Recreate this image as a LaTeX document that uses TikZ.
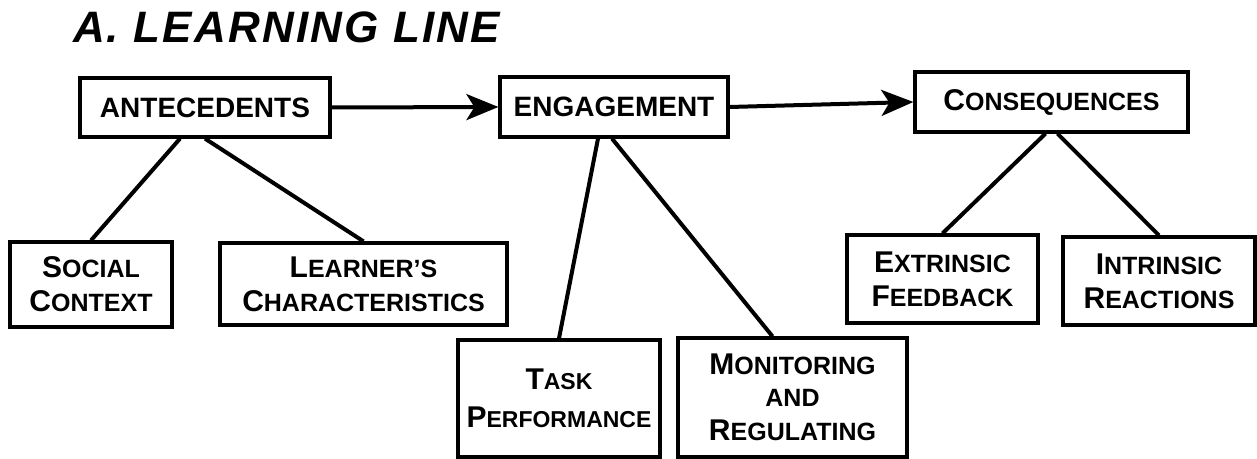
\documentclass[tikz,border=0pt]{standalone}
\usepackage{fontspec}
\setmainfont{Liberation Sans}
\usetikzlibrary{arrows.meta}
\newcommand{\Capword}[3][12.5]{{\fontsize{15}{17}\selectfont #2}{\fontsize{#1}{17}\selectfont #3}}

\tikzset{
    box/.style={draw, black, line width=1.6pt, rectangle, inner sep=0pt, align=center,
        font=\bfseries\fontsize{14}{17}\selectfont},
    link/.style={black, line width=2pt},
    flow/.style={black, line width=2pt, -{Stealth[length=16pt, width=13pt, inset=4pt]}}
}

\begin{document}
\begin{tikzpicture}[x=0.5pt, y=-0.5pt]
    \useasboundingbox (0,0) rectangle (1257,459);
    \node[anchor=base west, font=\bfseries\itshape\fontsize{22}{24}\selectfont\addfontfeature{LetterSpace=5}] (title) at (66,43) {A. LEARNING LINE};

    % top row
    \node[box, minimum width=125pt, minimum height=29.5pt] (ante) at (205,107.5) {ANTECEDENTS};
    \node[box, minimum width=114pt, minimum height=30pt] (engage) at (614,107) {ENGAGEMENT};
    \node[box, minimum width=136.5pt, minimum height=30pt] (conseq) at (1051.5,102) {\Capword{C}{ONSEQUENCES}};

    % second row
    \node[box, minimum width=81pt, minimum height=42.5pt] (social) at (91,284.5) {\Capword{S}{OCIAL}\\\Capword{C}{ONTEXT}};
    \node[box, minimum width=143.5pt, minimum height=41pt] (learner) at (363.5,284) {\Capword{L}{EARNER'S}\\\Capword{C}{HARACTERISTICS}};
    \node[box, minimum width=95.5pt, minimum height=44pt] (extr) at (942.5,279) {\Capword{E}{XTRINSIC}\\\Capword{F}{EEDBACK}};
    \node[box, minimum width=96pt, minimum height=44pt] (intr) at (1159,281) {\Capword{I}{NTRINSIC}\\\Capword{R}{EACTIONS}};

    % third row
    \node[box, minimum width=101pt, minimum height=58.5pt] (task) at (559,398.5) {\Capword[11.5]{T}{ASK}\\[2pt]\Capword[11.5]{P}{ERFORMANCE}};
    \node[box, minimum width=114.5pt, minimum height=59.5pt] (monitor) at (792.5,397.5) {\Capword{M}{ONITORING}\\[-1pt]{\fontsize{12.5}{15}\selectfont AND}\\\Capword{R}{EGULATING}};

    \draw[flow] (ante.east) -- (engage.west);
    \draw[flow] (engage.east) -- (conseq.west);

    \draw[link] ([xshift=-12.5pt]ante.south) -- (social.north);
    \draw[link] (ante.south) -- (learner.north);
    \draw[link] ([xshift=-8pt]engage.south) -- (task.north);
    \draw[link] ([xshift=-1pt]engage.south) -- ([xshift=-10pt]monitor.north);
    \draw[link] ([xshift=-3pt]conseq.south) -- (extr.north);
    \draw[link] ([xshift=3pt]conseq.south) -- (intr.north);
\end{tikzpicture}
\end{document}
